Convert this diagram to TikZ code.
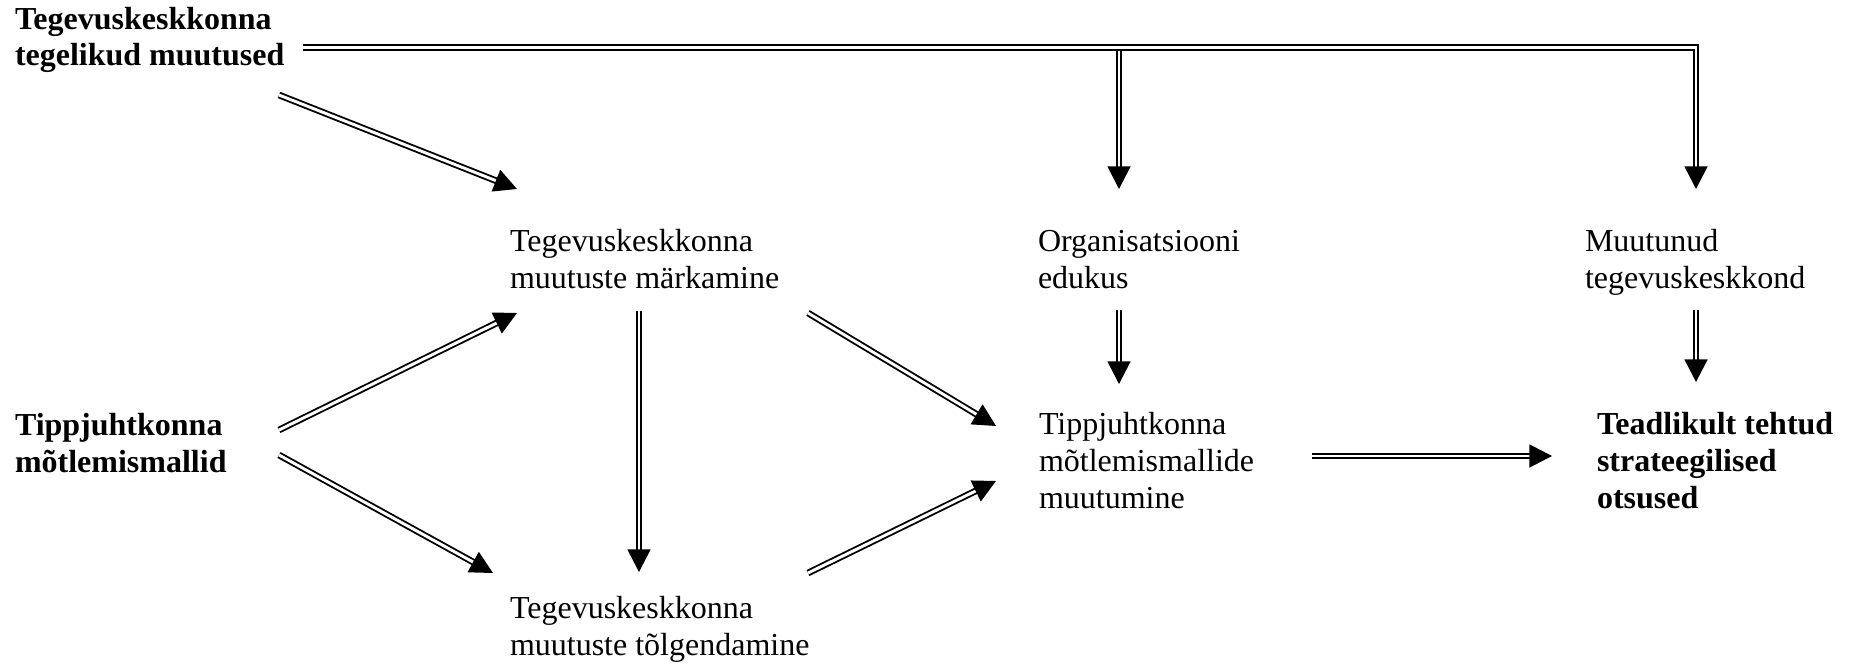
\documentclass[tikz,border=0pt]{standalone}
\usepackage{fontspec}
\setmainfont{Liberation Serif}
\usetikzlibrary{arrows.meta,positioning}

\begin{document}
\begin{tikzpicture}[x=0.375pt, y=-0.375pt,
  every node/.style={font=\fontsize{12}{13.7}\selectfont, inner sep=0pt, outer sep=0pt, align=left, anchor=base west},
  bold/.style={font=\fontsize{12}{13.7}\selectfont\bfseries},
  arr/.style={double, line width=0.7pt, double distance=1.1pt, -{Triangle[length=8.5pt,width=8.6pt]}}]
  \useasboundingbox (0,0) rectangle (1854,667);
  % text blocks (placed at the baseline of their last line)
  \node[bold] (real) at (15,66) {Tegevuskeskkonna\\tegelikud muutused};
  \node[bold] (mental) at (15,472) {Tippjuhtkonna\\mõtlemismallid};
  \node (notice) at (510,288) {Tegevuskeskkonna\\muutuste märkamine};
  \node (interp) at (510,655) {Tegevuskeskkonna\\muutuste tõlgendamine};
  \node (success) at (1038,288) {Organisatsiooni\\edukus};
  \node (mmchange) at (1039,508) {Tippjuhtkonna\\mõtlemismallide\\muutumine};
  \node (changed) at (1585,288) {Muutunud\\tegevuskeskkond};
  \node[bold] (decisions) at (1597,508) {Teadlikult tehtud\\strateegilised\\otsused};
  % top bar
  \coordinate (fork) at ([shift={(81,-236.5)}]success.base west);
  \draw[arr] ([shift={(288,-18.5)}]real.base west) -| ([shift={(111,-99)}]changed.base west);
  \draw[arr] (fork) -- ([shift={(81,-99)}]success.base west);
  % arrows
  \draw[arr] ([shift={(264,29)}]real.base west) -- ([shift={(7,-99)}]notice.base west);
  \draw[arr] ([shift={(264,-42)}]mental.base west) -- ([shift={(7,25)}]notice.base west);
  \draw[arr] ([shift={(264,-17)}]mental.base west) -- ([shift={(-17,-82)}]interp.base west);
  \draw[arr] ([shift={(129,23)}]notice.base west) -- ([shift={(129,-83)}]interp.base west);
  \draw[arr] ([shift={(298,25)}]notice.base west) -- ([shift={(-43,-82)}]mmchange.base west);
  \draw[arr] ([shift={(298,-82)}]interp.base west) -- ([shift={(-43,-27)}]mmchange.base west);
  \draw[arr] ([shift={(81,22)}]success.base west) -- ([shift={(80,-124)}]mmchange.base west);
  \draw[arr] ([shift={(111,22)}]changed.base west) -- ([shift={(99,-126)}]decisions.base west);
  \draw[arr] ([shift={(273,-52)}]mmchange.base west) -- ([shift={(-45,-52)}]decisions.base west);
\end{tikzpicture}
\end{document}
